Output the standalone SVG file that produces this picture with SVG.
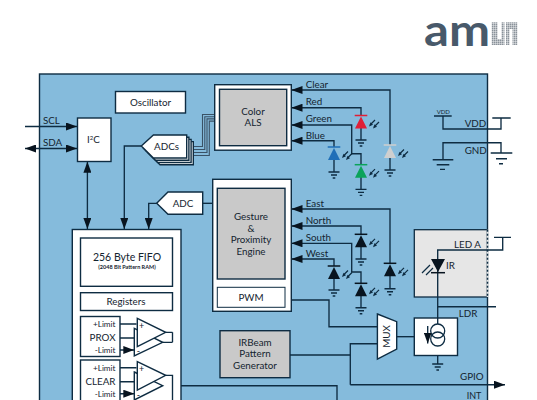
<svg xmlns="http://www.w3.org/2000/svg" width="537" height="400" viewBox="0 0 537 400">
<style>
text{font-family:"Lato","Open Sans","Liberation Sans",sans-serif;font-size:9.8px;fill:#14242f}
.c{text-anchor:middle}.r{text-anchor:end}
.box{fill:#fff;stroke:#0e2c42;stroke-width:1.4}
.gray{fill:#c9c9c9;stroke:#0e2c42;stroke-width:1.4}
.w{fill:none;stroke:#0e2c42;stroke-width:1.35}
.a{marker-end:url(#arr)}
.gl{stroke:#0e2c42;stroke-width:1.35;fill:none}
.s{font-size:8.2px}
</style>
<defs>
<marker id="arr" viewBox="0 0 11 8" refX="11" refY="4" markerWidth="11" markerHeight="8" markerUnits="userSpaceOnUse" orient="auto-start-reverse"><path d="M0 0L11 4L0 8Z" fill="#08141f"/></marker>
<pattern id="hatch" width="2" height="2" patternUnits="userSpaceOnUse"><rect width="2" height="2" fill="#fff"/><rect width="1.6" height="1.6" fill="#8a929a"/></pattern>
<g id="gnd" class="gl"><path d="M-5.5 0H5.5M-3 3H3M-1.3 6H1.3"/></g>
<g id="dio"><path d="M-6.3 0H6.3" stroke="currentColor" stroke-width="1.5"/><path d="M0 1L6 13H-6Z" fill="currentColor"/></g>
<g id="ph"><path d="M9 9.5L14 4.5M13 11.5L18 6.5" style="fill:none;stroke:#0e2c42;stroke-width:1.2"/><path d="M8 11L9.6 6.8L12 9.2ZM12 13L13.6 8.8L16 11.2Z" fill="#0e2c42"/></g>
</defs>
<rect width="537" height="400" fill="#fff"/>
<g id="logo">
<text x="424" y="45.5" textLength="66" lengthAdjust="spacingAndGlyphs" style="font-size:44px;font-weight:700;fill:#48596a">am</text>
<rect x="491.7" y="22.3" width="25.6" height="22.7" fill="url(#hatch)"/>
<rect x="497.5" y="22" width="4" height="17" fill="#fff"/>
<rect x="504.5" y="22" width="1.5" height="23" fill="#fff"/>
<rect x="509.5" y="29" width="3" height="17" fill="#fff"/>
</g>
<rect id="chip" x="39.5" y="74" width="448" height="340" fill="#85bbdc" stroke="#0e2c42" stroke-width="1.4"/>
<g id="ir-area">
<rect x="414.3" y="229.7" width="73" height="67.3" fill="#e6e6e6" stroke="#0e2c42" stroke-width="1.3"/>
<path d="M487.5 229.7V297" stroke="#e6e6e6" stroke-width="1.6"/>
<path d="M487.5 229.7V297" stroke="#0e2c42" stroke-width="1.4" stroke-dasharray="2 2"/>
</g>
<g id="connectors">
<path class="w a" d="M25 126.5H77"/>
<path class="w a" style="marker-start:url(#arr)" d="M25 148.5H77"/>
<path class="w a" style="marker-start:url(#arr)" d="M87.4 161.7V229"/>
<path class="w a" d="M141 146H124.3V229"/>
<path class="w a" d="M157 203.3H148.7V229"/>
<path class="w" d="M202.7 203.3H217.3"/>
<path class="w" d="M218.7 114.5H202.5V146.5H187M218.7 116.7H204.8V149.5H189M218.7 118.9H207V152.5H191M218.7 121.1H209.3V155.5H193" style="stroke:#3a5266;stroke-width:1.1"/>
<path class="w a" d="M390 145V90H291.5"/>
<path class="w a" d="M361 115.5V107.7H291.5"/>
<path class="w a" d="M361 164.7V153.7H351.7V125H291.5"/>
<path class="w a" d="M334 147V140.7H291.5"/>
<path class="w" d="M361 128V140M390 158V170M361 177V189.3M334 160V172"/>
<path class="w a" d="M390 263V209H291.5"/>
<path class="w a" d="M361 234V226H291.5"/>
<path class="w a" d="M361 283V272H351.7V243.3H291.5"/>
<path class="w a" d="M334 266V259H291.5"/>
<path class="w" d="M361 247V259M390 276V288.7M361 296V307.7M334 278V290"/>
<path class="w" d="M434 116H451.7M443 116V129H501V118M492.3 118H510.7"/>
<path class="w" d="M443 159.7V142.7H501V153"/>
<path class="w" d="M432.7 159.7H453.3M436.7 164.7H449.3M440 169.3H445"/>
<path class="w" d="M490.7 153H512.3M496 158.7H507M499 163.7H503"/>
<path class="w" d="M285 300H329V326.7H377.5"/>
<path class="w" d="M396.7 336.7H414.3"/>
<path class="w" d="M290 355H350.3"/>
<path class="w" d="M377.5 343.7H350.3V384.7"/>
<path class="w a" d="M350.3 384.7H505"/>
<path class="w" d="M437.7 273V324M437.7 306.7H496M437.7 272V250H502.7V237.3M494 237.3H511"/>
<path class="w" d="M437.7 347V364"/>
<path class="w" d="M162.7 385.7H337V400"/>
</g>
<g id="oscillator"><rect class="box" x="115.5" y="91.5" width="70" height="21.5"/><text class="c" x="150.5" y="106">Oscillator</text></g>
<g id="i2c"><rect class="box" x="77.5" y="118" width="33.5" height="43.5"/><text class="c" x="93.3" y="142.7">I<tspan dy="-3" style="font-size:6px">2</tspan><tspan dy="3">C</tspan></text></g>
<g id="adcs">
<path class="box" d="M147.9 152.6L160 141.6H193.3V164.7H160Z"/>
<path class="box" d="M145.7 150.4L157.8 139.4H191.1V162.5H157.8Z"/>
<path class="box" d="M143.5 148.2L155.6 137.2H188.9V160.2H155.6Z"/>
<path class="box" d="M141.3 146L153.4 135H186.7V158H153.4Z"/>
<text class="c" x="166.5" y="149.7">ADCs</text>
</g>
<g id="color-als">
<rect class="box" x="214.7" y="84.7" width="76.6" height="65.5"/>
<rect class="gray" x="219.5" y="89.3" width="67.2" height="56.4"/>
<text class="c" x="253" y="114.5">Color</text><text class="c" x="253" y="126">ALS</text>
</g>
<g id="adc"><path class="box" d="M156.7 203.3L168 192H202.7V214.3H168Z"/><text class="c" x="183" y="206.5">ADC</text></g>
<g id="gesture">
<rect class="box" x="212.7" y="179.3" width="78.6" height="132"/>
<rect class="gray" x="217.3" y="188.3" width="67.7" height="90.7"/>
<text class="c" x="251" y="220">Gesture</text><text class="c" x="251" y="231.7">&amp;</text><text class="c" x="251" y="243.3">Proximity</text><text class="c" x="251" y="255">Engine</text>
<rect class="box" x="217.3" y="287.3" width="67.7" height="20" style="stroke-width:1"/>
<text class="c" x="251" y="300.5">PWM</text>
</g>
<g id="irbeam"><rect class="gray" x="220" y="330.7" width="70" height="47"/><text class="c" x="255" y="345.5">IRBeam</text><text class="c" x="255" y="357">Pattern</text><text class="c" x="255" y="368.7">Generator</text></g>
<g id="mux"><path class="box" d="M377.4 314L396.7 321.7V349L377.4 359Z"/><text class="c" transform="translate(389.5 336.5) rotate(-90)">MUX</text></g>
<g id="ldr-driver">
<rect class="box" x="414.3" y="318" width="43.2" height="37.5"/>
<path class="w" d="M437.7 318V324"/>
<circle cx="437.7" cy="331" r="7" fill="none" stroke="#0e2c42" stroke-width="1.3"/>
<circle cx="437.7" cy="339" r="7" fill="none" stroke="#0e2c42" stroke-width="1.3"/>
<path class="w a" d="M427.7 326V343.5"/>
<use href="#gnd" x="437.7" y="364"/>
</g>
<g id="fifo-block">
<rect class="box" x="72.3" y="229.5" width="108.7" height="190"/>
<rect class="box" x="80.5" y="238" width="92" height="48.3"/>
<text class="c" x="127" y="261" style="font-size:10.5px">256 Byte FIFO</text>
<text class="c" x="127" y="268.7" style="font-size:5.5px;font-weight:700">(2048 Bit Pattern RAM)</text>
<rect class="box" x="80.5" y="292.7" width="92" height="17.8"/>
<text class="c" x="126" y="305">Registers</text>
<path class="w" d="M172.5 332.3V342.3M165.7 332.3H172.5M162.7 342.3H172.5M165.7 375.3H172.5V400"/>
</g>
<g id="prox">
<rect class="box" x="80.5" y="316.5" width="39.5" height="40"/>
<text class="r s" x="115.5" y="326.7">+Limit</text><text class="r" x="115.5" y="340.7">PROX</text><text class="r s" x="115.5" y="352.7">-Limit</text>
<path class="w a" d="M120 324H136.5M120 338H134.3M120 350H134.3"/>
<path class="box" d="M134.3 328.3L162.7 342.3L134.3 356Z"/>
<path class="box" d="M137.3 318.3L165.7 332.3L137.3 346.7Z"/>
<text class="c s" x="141.7" y="328.5" style="font-size:9px">+</text><text class="c s" x="138.5" y="354" style="font-size:9px">-</text>
</g>
<g id="clear">
<rect class="box" x="80.5" y="360" width="39.5" height="50"/>
<text class="r s" x="115.5" y="371.3">+Limit</text><text class="r" x="115.5" y="385">CLEAR</text><text class="r s" x="115.5" y="397">-Limit</text>
<path class="w a" d="M120 367.7H136.5M120 381.7H134.3M120 393.7H134.3"/>
<path class="box" d="M134.3 372L162.7 385.7L134.3 400Z"/>
<path class="box" d="M137.3 361.7L165.7 375.3L137.3 390Z"/>
<text class="c s" x="141.7" y="371.5" style="font-size:9px">+</text><text class="c s" x="138.5" y="398" style="font-size:9px">-</text>
</g>
<g id="photodiodes">
<use href="#dio" x="361" y="115.5" style="color:#e01f36"/><use href="#ph" x="361" y="115.5"/><use href="#gnd" x="361" y="140"/>
<use href="#dio" x="390" y="145" style="color:#cfcfcf"/><use href="#ph" x="390" y="145"/><use href="#gnd" x="390" y="170"/>
<use href="#dio" x="361" y="164.7" style="color:#0ba35a"/><use href="#ph" x="361" y="164.7"/><use href="#gnd" x="361" y="189.3"/>
<use href="#dio" x="334" y="147" style="color:#1f6fb8"/><use href="#ph" x="334" y="147"/><use href="#gnd" x="334" y="172"/>
<use href="#dio" x="390" y="263.3" style="color:#08141f"/><use href="#ph" x="390" y="263.3"/><use href="#gnd" x="390" y="288.7"/>
<use href="#dio" x="361" y="234.3" style="color:#08141f"/><use href="#ph" x="361" y="234.3"/><use href="#gnd" x="361" y="259"/>
<use href="#dio" x="361" y="283.3" style="color:#08141f"/><use href="#ph" x="361" y="283.3"/><use href="#gnd" x="361" y="307.7"/>
<use href="#dio" x="334" y="266" style="color:#08141f"/><use href="#ph" x="334" y="266"/><use href="#gnd" x="334" y="290"/>
</g>
<g id="ir-led">
<path d="M431 259H445L438 272Z" fill="#08141f"/><path d="M431 272.7H445" stroke="#08141f" stroke-width="1.5"/>
<path d="M422 273L430 265M426 275L433 268" stroke="#0e2c42" stroke-width="1.2"/>
</g>
<g id="labels">
<text x="43" y="124">SCL</text><text x="43" y="145.7">SDA</text>
<text x="305.7" y="87.7">Clear</text><text x="305.7" y="105">Red</text><text x="305.7" y="122.3">Green</text><text x="305.7" y="138.7">Blue</text>
<text x="305.7" y="206.7">East</text><text x="305.7" y="223.7">North</text><text x="305.7" y="241">South</text><text x="305.7" y="257">West</text>
<text x="436.7" y="113.7" style="font-size:6px">VDD</text><text x="464.7" y="127">VDD</text><text x="464.7" y="154">GND</text>
<text x="454" y="247.6">LED A</text><text x="446" y="269.3">IR</text><text x="458.7" y="316.7">LDR</text><text x="460" y="380.3">GPIO</text><text x="466.7" y="399.3" style="font-size:9px">INT</text>
</g>
</svg>
